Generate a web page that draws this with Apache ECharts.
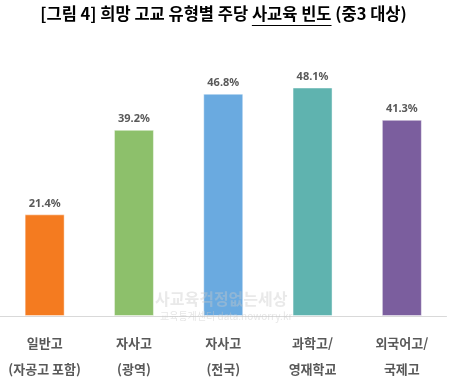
<!DOCTYPE html>
<html><head><meta charset="utf-8">
<script src="https://cdn.jsdelivr.net/npm/echarts@6/dist/echarts.min.js"></script>
<style>html,body{margin:0;padding:0;background:#fff}#c{width:468px;height:382px}</style>
</head><body><div id="c"></div>
<script>
const categories = ['일반고\n(자공고 포함)', '자사고\n(광역)', '자사고\n(전국)', '과학고/\n영재학교', '외국어고/\n국제고'];
const values = [21.4, 39.2, 46.8, 48.1, 41.3];
const barColors = ['#F47B20', '#8DC06B', '#6AAAE0', '#5FB3AF', '#7B5E9E'];
const titlePre = '[그림 4] 희망 고교 유형별 주당 ';
const titleUnder = '사교육 빈도';
const titlePost = ' (중3 대상)';

const titleFont = 'bold 16.5px "Noto Sans CJK KR"';
const ctx = document.createElement('canvas').getContext('2d');
ctx.font = titleFont;
const wPre = ctx.measureText(titlePre).width;
const wUnder = ctx.measureText(titleUnder).width;
const wAll = ctx.measureText(titlePre + titleUnder + titlePost).width;
const titleLeft = 223.5 - wAll / 2;

const chart = echarts.init(document.getElementById('c'), null, {renderer: 'canvas'});
chart.setOption({
  animation: false,
  backgroundColor: '#fff',
  grid: {left: -5, width: 451.5, top: 31, bottom: 61, containLabel: false},
  xAxis: {
    type: 'category', data: categories,
    axisLine: {lineStyle: {color: '#D9D9D9', width: 1}},
    axisTick: {show: false},
    axisLabel: {margin: 14, lineHeight: 26, fontFamily: 'Noto Sans CJK KR', fontSize: 13, fontWeight: 'bold', color: '#595959', interval: 0}
  },
  yAxis: {type: 'value', min: 0, max: 60, show: false, splitLine: {show: false}},
  graphic: [
    {type: 'text', left: titleLeft, top: 5, silent: true,
     style: {text: titlePre + titleUnder + titlePost, font: titleFont, fill: '#000'}},
    {type: 'line', silent: true, shape: {x1: titleLeft + wPre, y1: 25.5, x2: titleLeft + wPre + wUnder, y2: 25.5}, style: {stroke: '#000', lineWidth: 1}},
    {type: 'text', left: 155, top: 291, silent: true, z: 10,
     style: {text: '사교육걱정없는세상', font: 'bold 16px "Noto Sans CJK KR"', fill: 'rgba(200,200,200,0.4)'}},
    {type: 'text', left: 160, top: 311, silent: true, z: 10,
     style: {text: '교육통계센터 data.noworry.kr', font: '10px "Noto Sans CJK KR"', fill: 'rgba(200,200,200,0.45)'}}
  ],
  series: [{
    type: 'bar', barWidth: 40,
    data: values.map((v, i) => ({value: v, itemStyle: {color: barColors[i], borderColor: 'rgba(255,255,255,0.45)', borderWidth: 1}})),
    label: {show: true, position: 'top', distance: 5, formatter: p => p.value.toFixed(1) + '%',
      fontFamily: 'Noto Sans', fontSize: 11, fontWeight: 'bold', color: '#595959'}
  }]
});
</script></body></html>
